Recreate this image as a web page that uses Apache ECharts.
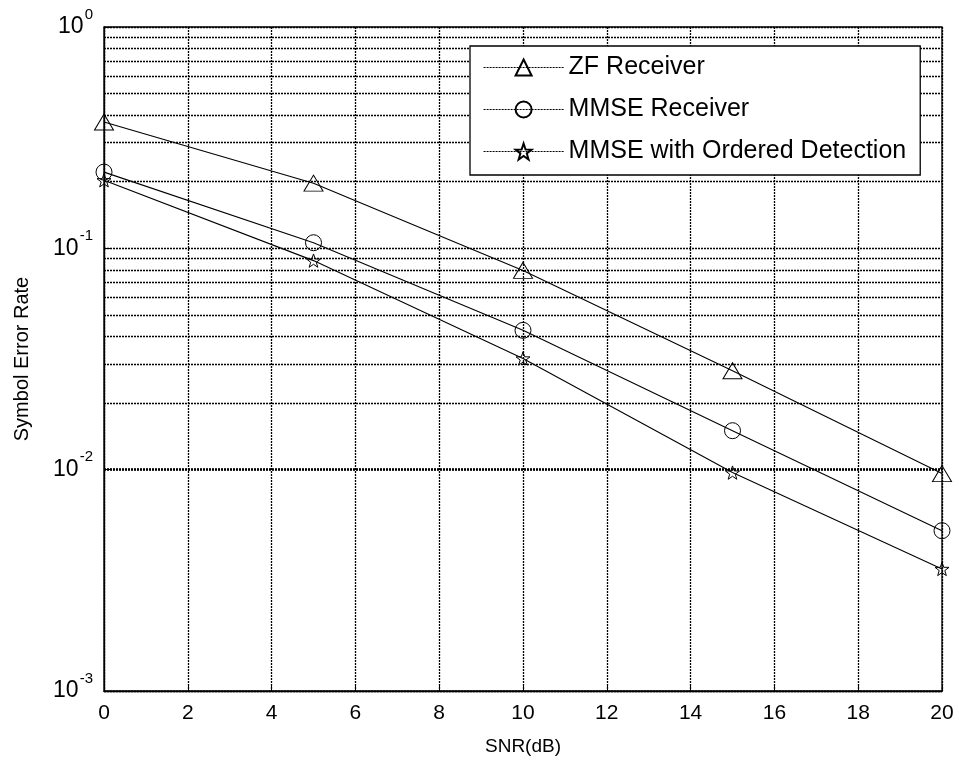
<!DOCTYPE html>
<html>
<head>
<meta charset="utf-8">
<script src="https://cdn.jsdelivr.net/npm/echarts@6/dist/echarts.min.js"></script>
<style>
  html, body { margin: 0; padding: 0; background: #fff; }
  #chart { width: 959px; height: 763px; }
</style>
</head>
<body>
<div id="chart"></div>
<script>
// SNR sweep (dB) and measured symbol error rates for each receiver
const snr = [0, 5, 10, 15, 20];
const zfReceiver = [0.372, 0.197, 0.0795, 0.028, 0.0096];
const mmseReceiver = [0.221, 0.106, 0.0426, 0.015, 0.0053];
const mmseOrdered = [0.203, 0.088, 0.0318, 0.0097, 0.00356];

const seriesNames = ['ZF Receiver', 'MMSE Receiver', 'MMSE with Ordered Detection'];

// Decade exponents shown on the y axis and the in-between grid multipliers
const yDecades = [-3, -2, -1, 0];
const minorMultipliers = [2, 3, 4, 5, 6, 7, 8, 9];

const FONT = 'Liberation Sans, Arial, Helvetica, sans-serif';
const STAR = 'path://M50,0L61.76,33.82L97.55,34.55L69.02,56.18L79.39,90.45L50,70L20.61,90.45L30.98,56.18L2.45,34.55L38.24,33.82Z';

const gridDots = { color: '#000', width: 1.3, type: [2, 1] };

// Minor horizontal grid lines at 2..9 x 10^k (log-axis minor ticks are not placed there)
const minorLines = [];
yDecades.slice(0, -1).forEach(function (e) {
  minorMultipliers.forEach(function (m) {
    minorLines.push({ yAxis: m * Math.pow(10, e) });
  });
});

function pairs(ys) {
  return snr.map(function (x, i) { return [x, ys[i]]; });
}

const markerStyle = { color: 'transparent', borderColor: '#000', borderWidth: 1 };
const lineStyle = { color: '#000', width: 1.1 };

const chart = echarts.init(document.getElementById('chart'), null, { renderer: 'canvas' });

chart.setOption({
  animation: false,
  backgroundColor: '#fff',
  textStyle: { fontFamily: FONT, color: '#000' },
  grid: {
    left: 104, right: 17, top: 27, bottom: 72,
    outerBoundsMode: 'none', containLabel: false,
    show: true, borderColor: '#000', borderWidth: 1.3, backgroundColor: 'transparent'
  },
  legend: {
    z: 20, zlevel: 0,
    left: 470, top: 46,
    orient: 'vertical',
    data: seriesNames,
    itemWidth: 80, itemHeight: 20, itemGap: 17,
    padding: [9, 14, 11, 13],
    backgroundColor: '#fff',
    borderColor: '#000', borderWidth: 1.3,
    lineStyle: { type: [2, 1], width: 1.2, color: '#000' },
    textStyle: { fontFamily: FONT, fontSize: 25, color: '#000' }
  },
  xAxis: {
    type: 'value',
    min: 0, max: 20, interval: 2,
    name: 'SNR(dB)', nameLocation: 'middle', nameGap: 46,
    nameTextStyle: { fontFamily: FONT, fontSize: 19, color: '#000' },
    axisLine: { show: true, lineStyle: { color: '#000', width: 1.3 } },
    axisTick: { show: true, inside: true, length: 7, lineStyle: { color: '#000' } },
    axisLabel: { fontFamily: FONT, fontSize: 21, color: '#000', margin: 12 },
    splitLine: { show: true, lineStyle: gridDots }
  },
  yAxis: {
    type: 'log', logBase: 10,
    min: 0.001, max: 1,
    name: 'Symbol Error Rate', nameLocation: 'middle', nameGap: 72, nameRotate: 90,
    nameTextStyle: { fontFamily: FONT, fontSize: 20, color: '#000' },
    axisLine: { show: true, lineStyle: { color: '#000', width: 1.3 } },
    axisTick: { show: true, inside: true, length: 7, lineStyle: { color: '#000' } },
    axisLabel: {
      margin: 11,
      formatter: function (v) {
        const e = Math.round(Math.log10(v));
        return '{b|10}{s|' + e + '}';
      },
      rich: {
        b: { fontFamily: FONT, fontSize: 23, color: '#000' },
        s: { fontFamily: FONT, fontSize: 15, color: '#000', verticalAlign: 'bottom', padding: [0, 0, 25, 1] }
      }
    },
    splitLine: { show: true, lineStyle: gridDots }
  },
  series: [
    {
      name: seriesNames[0], type: 'line', data: pairs(zfReceiver), z: 2,
      symbol: 'triangle', symbolSize: [19, 16], showAllSymbol: true,
      itemStyle: markerStyle, lineStyle: lineStyle,
      markLine: {
        silent: true, symbol: 'none', label: { show: false }, animation: false,
        lineStyle: gridDots, emphasis: { disabled: true },
        data: minorLines
      }
    },
    {
      name: seriesNames[1], type: 'line', data: pairs(mmseReceiver), z: 2,
      symbol: 'circle', symbolSize: 16,
      itemStyle: markerStyle, lineStyle: lineStyle
    },
    {
      name: seriesNames[2], type: 'line', data: pairs(mmseOrdered), z: 2,
      symbol: STAR, symbolSize: 14, symbolKeepAspect: true,
      itemStyle: markerStyle, lineStyle: lineStyle
    }
  ]
});
</script>
</body>
</html>
